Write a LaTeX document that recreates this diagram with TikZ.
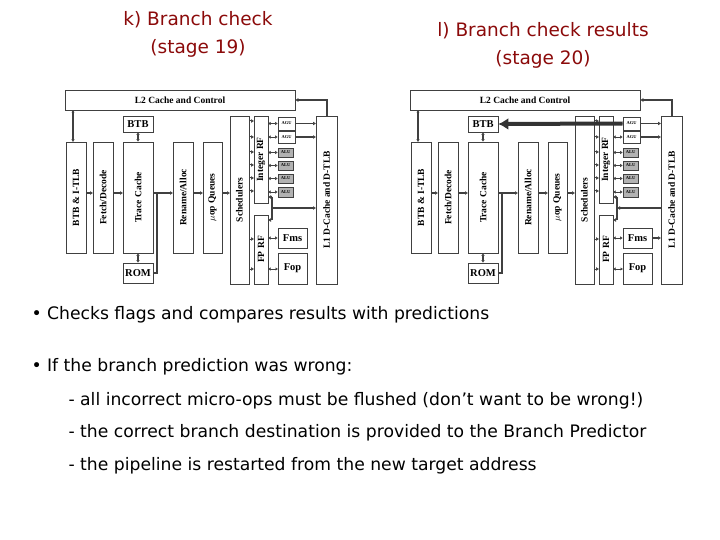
\documentclass[tikz,border=0pt]{standalone}
\usepackage{fontspec}
\setmainfont{Liberation Serif}
\newfontfamily\txt{DejaVu Sans}
\usetikzlibrary{arrows.meta}
\definecolor{ttl}{HTML}{8B0A0A}
\newcommand\bx[7][]{\node[box,#1,minimum width={(#5-#3)*1pt},minimum height={(#6-#4)*1pt}] (#2) at ({(#3+#5)/2},{(#4+#6)/2}) {#7};}
\newcommand\rbx[7][]{\node[box,rotate=90,#1,minimum height={(#5-#3)*1pt},minimum width={(#6-#4)*1pt}] (#2) at ({(#3+#5)/2},{(#4+#6)/2}) {#7};}
\tikzset{
 box/.style={draw=black!75,line width=0.6pt,fill=white,inner sep=0pt,font=\bfseries\fontsize{9.5}{10}\selectfont},
 big/.style={font=\bfseries\fontsize{10.5}{11}\selectfont},
 alu/.style={fill=black!30,font=\bfseries\fontsize{4.5}{5}\selectfont},
 agu/.style={font=\bfseries\fontsize{4.5}{5}\selectfont},
 ar/.style={draw=black!75,line width=1.4pt,-{Latex[length=3pt,width=4pt]}},
 dar/.style={draw=black!75,line width=1.2pt,{Latex[length=2.5pt,width=3.5pt]}-{Latex[length=2.5pt,width=3.5pt]}},
 ln/.style={draw=black!75,line width=1.4pt},
 title/.style={text=ttl,font=\txt\fontsize{18.5}{28}\selectfont,align=center},
 body/.style={anchor=base west,font=\txt\fontsize{17.2}{20}\selectfont},
}
\newcommand\pfour{%
\bx{L2}{65}{90}{295}{110}{L2 Cache and Control}
\rbx{itlb}{66}{142}{86}{253}{BTB \& I-TLB}
\rbx{fd}{93}{142}{113}{253}{Fetch/Decode}
\rbx{tc}{123}{142}{153}{253}{Trace Cache}
\bx[big]{btb}{123}{116}{153}{132}{BTB}
\bx[big]{rom}{123}{263}{153}{283}{ROM}
\rbx{ra}{173}{142}{193}{253}{Rename/Alloc}
\rbx{uq}{203}{142}{222}{253}{$\mu$op Queues}
\rbx{sch}{230}{116}{249}{284}{Schedulers}
\rbx{irf}{254}{116}{268}{203}{Integer RF}
\rbx{fprf}{254}{215}{268}{284}{FP RF}
\bx[agu]{agu1}{278}{117}{295}{130}{AGU}
\bx[agu]{agu2}{278}{131}{295}{143}{AGU}
\bx[alu]{alu1}{278}{148}{293}{157}{ALU}
\bx[alu]{alu2}{278}{161}{293}{170}{ALU}
\bx[alu]{alu3}{278}{174}{293}{183}{ALU}
\bx[alu]{alu4}{278}{187}{293}{197}{ALU}
\bx[big]{fms}{278}{228}{307}{248}{Fms}
\bx[big]{fop}{278}{253}{307}{284}{Fop}
\rbx{l1}{316}{116}{337}{284}{L1 D-Cache and D-TLB}
\draw[ar] (86,193) -- (93,193);
\draw[ar] (113,193) -- (123,193);
\draw[ar] (153,193) -- (173,193);
\draw[ar] (193,193) -- (203,193);
\draw[ar] (222,193) -- (230,193);
\draw[ln] (rom.east) -| (157,193);
\draw[dar] (73,110) -- (73,142);
\draw[dar] (btb) -- (tc);
\draw[dar] (tc) -- (rom);
\foreach \y in {121,137,152,165,178,191}{\draw[ar,line width=1pt] (249,\y) -- (254,\y);}
\foreach \n in {agu1,agu2,alu1,alu2,alu3,alu4}{\draw[dar,line width=0.8pt] (268,0|-\n.west) -- (\n.west);}
\draw[ar] (agu1.east) -- (316,0|-agu1.east);
\draw[ar] (agu2.east) -- (316,0|-agu2.east);
\draw[ar,line width=1pt] (249,239) -- (254,239);
\draw[ar,line width=1pt] (249,269) -- (254,269);
\draw[dar,line width=0.8pt] (268,0|-fms.west) -- (fms.west);
\draw[dar,line width=0.8pt] (268,269) -- (278,269);
\draw[ln] (272,197) -- (272,220);
\draw[ar,line width=1pt] (272,197) -- (268,197);
\draw[ar,line width=1pt] (272,220) -- (268,220);
\draw[ar] (327,116) |- (L2.east);
}
\begin{document}
\begin{tikzpicture}[x=1pt,y=-1pt]
\useasboundingbox (0,0) rectangle (720,540);
\node[title] (t1) at (198,34) {k) Branch check\\(stage 19)};
\node[title] (t2) at (543,45) {l) Branch check results\\(stage 20)};
\begin{scope}[name prefix=A-]
\pfour
\draw[ar] (272,208) -- (316,208);
\end{scope}
\begin{scope}[shift={(345,0)},name prefix=B-]
\pfour
\draw[ar] (316,208) -- (272,208);
\draw[ar] (fms.east) -- (316,0|-fms.east);
\draw[draw=black!80,line width=4pt,-{Latex[length=10pt,width=12pt]}] (agu1.west) -- (btb.east);
\end{scope}
\node[body] (b1) at (28,319) {\textbullet\ Checks flags and compares results with predictions};
\node[body] (b2) at (28,371) {\textbullet\ If the branch prediction was wrong:};
\node[body] (d1) at (65,405) {- all incorrect micro-ops must be flushed (don’t want to be wrong!)};
\node[body] (d2) at (65,437) {- the correct branch destination is provided to the Branch Predictor};
\node[body] (d3) at (65,470) {- the pipeline is restarted from the new target address};
\end{tikzpicture}
\end{document}
